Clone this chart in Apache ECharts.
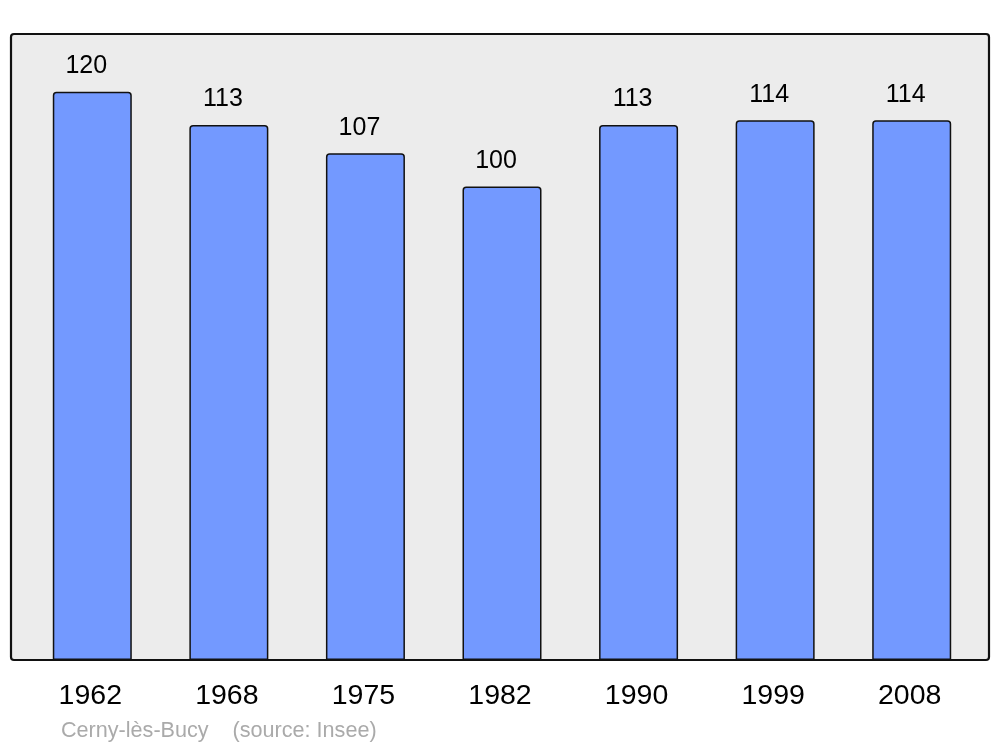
<!DOCTYPE html>
<html><head><meta charset="utf-8">
<script src="https://cdn.jsdelivr.net/npm/echarts@6/dist/echarts.min.js"></script>
<style>html,body{margin:0;padding:0;background:#fff}#c{width:1000px;height:747px}</style>
</head><body><div id="c"></div>
<script>
const years = ['1962','1968','1975','1982','1990','1999','2008'];
const population = [120,113,107,100,113,114,114];
const footer = 'Cerny-lès-Bucy    (source: Insee)';

const chart = echarts.init(document.getElementById('c'), null, {renderer:'canvas'});
chart.setOption({
  animation:false,
  backgroundColor:'#ffffff',
  graphic:[
    {type:'rect', z:-10, shape:{x:11,y:34,width:978,height:626,r:3},
     style:{fill:'#ececec',stroke:'#111',lineWidth:2.2}},
    {type:'text', left:61, top:720, style:{text:footer, fill:'#aaaaaa', font:'21.6px "Liberation Sans", Arial, sans-serif'}}
  ],
  grid:{left:24,right:20,top:34,bottom:87},
  xAxis:{type:'category',data:years,
    axisLine:{show:false},axisTick:{show:false},
    axisLabel:{color:'#000',fontSize:28.5,fontFamily:'"Liberation Sans", Arial, sans-serif',margin:22,padding:[0,4,0,0]}},
  yAxis:{type:'value',min:0,max:132.2,show:false,splitLine:{show:false}},
  series:[{type:'bar',data:population,barWidth:79,
    itemStyle:{color:'#7399ff',borderColor:'#111',borderWidth:1.5,borderRadius:[3,3,0,0]},
    label:{show:true,position:'top',distance:13,offset:[-6,0],color:'#000',fontSize:25,fontFamily:'"Liberation Sans", Arial, sans-serif'}
  }]
});
</script></body></html>
